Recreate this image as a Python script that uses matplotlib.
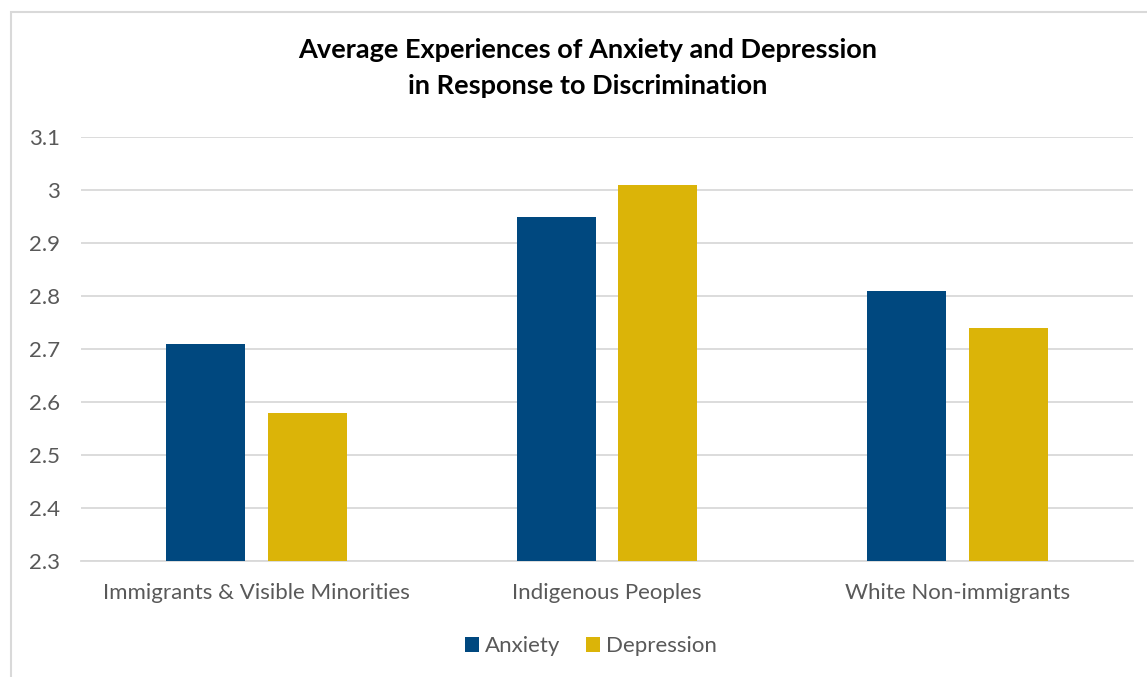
import matplotlib.pyplot as plt
import numpy as np
from matplotlib.patches import Rectangle

# Data
categories = ["Immigrants & Visible Minorities", "Indigenous Peoples", "White Non-immigrants"]
anxiety = [2.71, 2.95, 2.81]
depression = [2.58, 3.01, 2.74]
y_ticks = [2.3, 2.4, 2.5, 2.6, 2.7, 2.8, 2.9, 3.0, 3.1]
y_tick_labels = ["2.3", "2.4", "2.5", "2.6", "2.7", "2.8", "2.9", "3", "3.1"]

plt.rcParams["font.family"] = ["Lato", "DejaVu Sans"]

W, H = 1147, 677
fig = plt.figure(figsize=(W / 100, H / 100), dpi=100)

# Chart border (cut off at right and bottom like the reference)
fig.patches.append(
    Rectangle((11 / W, -0.1), 1.2, 1.1 - 12 / H, transform=fig.transFigure,
              fill=False, edgecolor="#d9d9d9", linewidth=1.5)
)

ax = fig.add_axes([81 / W, 116 / H, (1133 - 81) / W, (561 - 137) / H])

x = np.arange(len(categories))
width = 0.225
offset = 0.145
ax.bar(x - offset, anxiety, width, color="#00487f", label="Anxiety", zorder=3)
ax.bar(x + offset, depression, width, color="#dbb408", label="Depression", zorder=3)

ax.set_xlim(-0.5, 2.5)
ax.set_ylim(2.3, 3.1)
ax.set_yticks(y_ticks)
ax.set_yticklabels(y_tick_labels)
ax.set_xticks(x)
ax.set_xticklabels(categories)

ax.grid(axis="y", color="#d9d9d9", linewidth=1.3, zorder=0)
for s in ["top", "right", "left"]:
    ax.spines[s].set_visible(False)
ax.spines["bottom"].set_color("#d9d9d9")
ax.spines["bottom"].set_linewidth(1.3)
ax.tick_params(axis="both", length=0, labelcolor="#595959", labelsize=16)
ax.tick_params(axis="x", pad=16)
ax.tick_params(axis="y", pad=15)

fig.text(0.512, 1 - 68 / H,
         "Average Experiences of Anxiety and Depression\nin Response to Discrimination",
         ha="center", va="center", fontsize=19.5, fontweight="bold",
         linespacing=1.55, color="black")

fig.legend(loc="center", bbox_to_anchor=(0.515, 1 - 646 / H), ncol=2,
           frameon=False, fontsize=16, labelcolor="#595959",
           handlelength=0.65, handleheight=0.65, handletextpad=0.25,
           columnspacing=1.15)

fig.savefig("out.png", dpi=100, facecolor="white")
